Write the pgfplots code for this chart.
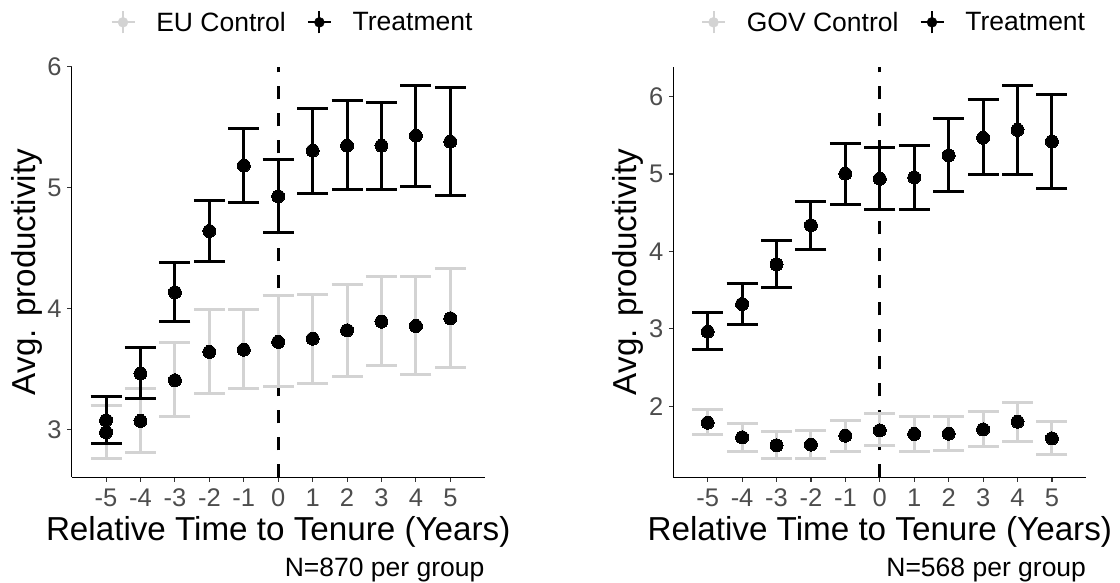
\documentclass[border=0pt]{standalone}
\usepackage{fontspec}
\setmainfont{Liberation Sans}
\usepackage{pgfplots}
\usepackage{pgfplotstable}
\pgfplotsset{compat=1.18}
\definecolor{ctrl}{HTML}{D3D3D3}
\definecolor{tickgray}{HTML}{4D4D4D}
\definecolor{tickline}{HTML}{333333}

\pgfplotstableread{
x y lo hi
-5 2.978 2.760 3.198
-4 3.072 2.810 3.342
-3 3.408 3.107 3.717
-2 3.642 3.298 3.989
-1 3.661 3.336 3.997
0 3.725 3.353 4.107
1 3.752 3.383 4.118
2 3.821 3.440 4.201
3 3.893 3.529 4.267
4 3.857 3.452 4.262
5 3.920 3.512 4.333
}\euctrl
\pgfplotstableread{
x y lo hi
-5 3.077 2.882 3.275
-4 3.463 3.254 3.680
-3 4.135 3.893 4.383
-2 4.642 4.386 4.893
-1 5.182 4.876 5.493
0 4.928 4.628 5.231
1 5.306 4.956 5.656
2 5.347 4.986 5.719
3 5.347 4.986 5.708
4 5.430 5.006 5.846
5 5.380 4.934 5.824
}\eutrt
\pgfplotstableread{
x y lo hi
-5 1.786 1.628 1.963
-4 1.597 1.416 1.777
-3 1.494 1.322 1.674
-2 1.503 1.322 1.687
-1 1.619 1.410 1.820
0 1.687 1.486 1.902
1 1.641 1.412 1.868
2 1.644 1.425 1.868
3 1.700 1.480 1.937
4 1.799 1.550 2.044
5 1.584 1.377 1.808
}\govctrl
\pgfplotstableread{
x y lo hi
-5 2.963 2.727 3.213
-4 3.320 3.058 3.586
-3 3.831 3.530 4.144
-2 4.338 4.028 4.647
-1 5.004 4.612 5.398
0 4.939 4.544 5.339
1 4.956 4.544 5.373
2 5.240 4.776 5.713
3 5.468 4.991 5.961
4 5.571 4.999 6.146
5 5.420 4.811 6.022
}\govtrt

\pgfplotsset{
 panel/.style={
  width=412.8bp, height=410.6bp, scale only axis, clip=false,
  xmin=-5.995, xmax=5.995,
  axis x line*=bottom, axis y line*=left,
  axis line style={line width=1.3bp, black, -},
  tick align=outside, major tick length=4.5bp,
  tick style={line width=1.1bp, tickline},
  xtick={-5,-4,-3,-2,-1,0,1,2,3,4,5},
  xticklabels={-5,-4,-3,-2,-1,0,1,2,3,4,5},
  tick label style={font=\fontsize{25.5bp}{29bp}\selectfont, text=tickgray},
  xticklabel style={anchor=base, inner sep=0pt, yshift=-24.2bp},
  yticklabel style={anchor=east, inner sep=0pt, xshift=-5.5bp},
  xlabel={Relative Time to Tenure (Years)},
  ylabel={Avg. productivity},
  label style={font=\fontsize{33.2bp}{38bp}\selectfont},
  xlabel style={at={(axis description cs:0.5,-0.1527)}, anchor=base, inner sep=0pt},
  ylabel style={at={(axis description cs:-0.0884,0.5)}, anchor=base, inner sep=0pt},
  legend columns=2,
  legend style={draw=none, fill=none, inner sep=0pt, outer sep=0pt, anchor=west,
    font=\fontsize{26.5bp}{30bp}\selectfont, nodes={inner sep=0pt},
    /tikz/every odd column/.append style={column sep=20.8bp},
    /tikz/every even column/.append style={column sep=21bp}},
 },
 ctrlkey/.style={legend image code/.code={
   \draw[ctrl, line width=2bp] (0bp,0bp) -- (23bp,0bp);
   \draw[ctrl, line width=2bp] (11.5bp,-11bp) -- (11.5bp,11bp);
   \fill[ctrl] (11.5bp,0bp) circle (5bp);}},
 trtkey/.style={legend image code/.code={
   \draw[black, line width=2bp] (0bp,0bp) -- (23bp,0bp);
   \draw[black, line width=2bp] (11.5bp,-11bp) -- (11.5bp,11bp);
   \fill[black] (11.5bp,0bp) circle (5bp);}},
 ebar/.style={forget plot, only marks, mark=*, mark size=6.5bp,
   mark options={draw=black, fill=black, line width=0pt, solid},
   error bars/y dir=both, error bars/y explicit,
   error bars/error bar style={line width=3bp, #1, solid},
   error bars/error mark options={rotate=90, line width=3bp, #1, mark size=15.5bp}},
 vline/.style={black, line width=3bp, dash pattern=on 13.5bp off 13.5bp, forget plot},
}

\begin{document}
\begin{tikzpicture}
\useasboundingbox (0,0) rectangle (1120bp,-583bp);

\begin{axis}[panel, at={(71.8bp,-477.3bp)}, anchor=south west,
  ymin=2.606, ymax=6.0, ytick={3,4,5,6}, yticklabels={3,4,5,6},
  legend style={at={(axis description cs:0.09375,1.1081)}}]
\addlegendimage{ctrlkey}\addlegendentry{EU Control}
\addlegendimage{trtkey}\addlegendentry{Treatment}
\addplot[vline] coordinates {(0,2.606) (0,6.0)};
\addplot[ebar=ctrl] table[x=x, y=y, y error plus expr=\thisrow{hi}-\thisrow{y}, y error minus expr=\thisrow{y}-\thisrow{lo}] {\euctrl};
\addplot[ebar=black] table[x=x, y=y, y error plus expr=\thisrow{hi}-\thisrow{y}, y error minus expr=\thisrow{y}-\thisrow{lo}] {\eutrt};
\node[anchor=base east, inner sep=0pt, font=\fontsize{26.5bp}{30bp}\selectfont] at (axis description cs:1,-0.2404) {N=870 per group};
\end{axis}

\begin{axis}[panel, at={(673.4bp,-477.3bp)}, anchor=south west,
  ymin=1.081, ymax=6.387, ytick={2,3,4,5,6}, yticklabels={2,3,4,5,6},
  legend style={at={(axis description cs:0.0669,1.1081)}}]
\addlegendimage{ctrlkey}\addlegendentry{GOV Control}
\addlegendimage{trtkey}\addlegendentry{Treatment}
\addplot[vline] coordinates {(0,1.081) (0,6.387)};
\addplot[ebar=ctrl] table[x=x, y=y, y error plus expr=\thisrow{hi}-\thisrow{y}, y error minus expr=\thisrow{y}-\thisrow{lo}] {\govctrl};
\addplot[ebar=black] table[x=x, y=y, y error plus expr=\thisrow{hi}-\thisrow{y}, y error minus expr=\thisrow{y}-\thisrow{lo}] {\govtrt};
\node[anchor=base east, inner sep=0pt, font=\fontsize{26.5bp}{30bp}\selectfont] at (axis description cs:1,-0.2404) {N=568 per group};
\end{axis}
\end{tikzpicture}
\end{document}
